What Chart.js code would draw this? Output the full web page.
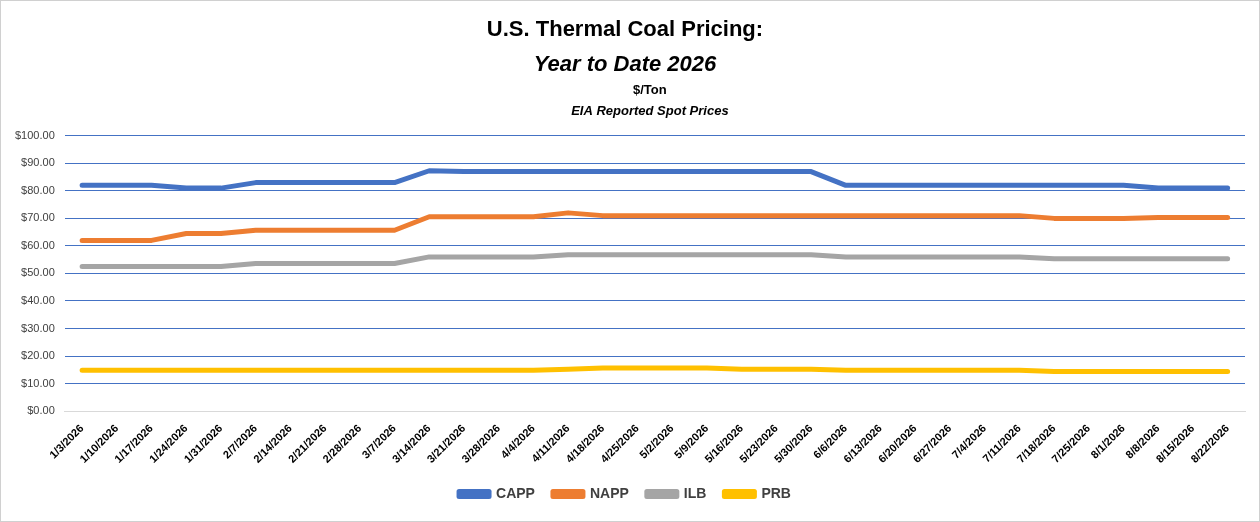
<!DOCTYPE html>
<html>
<head>
<meta charset="utf-8">
<script src="https://cdn.jsdelivr.net/npm/chart.js@4/dist/chart.umd.min.js"></script>
<style>
  html, body { margin: 0; padding: 0; background: #fff; }
  #wrap { position: absolute; left: 0; top: 0; width: 1258px; height: 520px; border: 1px solid #d0d0d0; }
</style>
</head>
<body>
<div id="wrap"><canvas id="coalChart"></canvas></div>
<script>
// Dados (semanal, $/ton)
const weeks = ['1/3/2026','1/10/2026','1/17/2026','1/24/2026','1/31/2026','2/7/2026','2/14/2026','2/21/2026','2/28/2026','3/7/2026',
  '3/14/2026','3/21/2026','3/28/2026','4/4/2026','4/11/2026','4/18/2026','4/25/2026','5/2/2026','5/9/2026','5/16/2026',
  '5/23/2026','5/30/2026','6/6/2026','6/13/2026','6/20/2026','6/27/2026','7/4/2026','7/11/2026','7/18/2026','7/25/2026',
  '8/1/2026','8/8/2026','8/15/2026','8/22/2026'];
const capp = [82,82,82,81,81,83,83,83,83,83,87.3,87,87,87,87,87,87,87,87,87,87,87,82,82,82,82,82,82,82,82,82,81,81,81];
const napp = [62,62,62,64.5,64.5,65.7,65.7,65.7,65.7,65.7,70.6,70.6,70.6,70.6,72,71,71,71,71,71,71,71,71,71,71,71,71,71,70,70,70,70.3,70.3,70.3];
const ilb = [52.5,52.5,52.5,52.5,52.5,53.6,53.6,53.6,53.6,53.6,56,56,56,56,56.8,56.8,56.8,56.8,56.8,56.8,56.8,56.8,56,56,56,56,56,56,55.3,55.3,55.3,55.3,55.3,55.3];
const prb = [14.8,14.8,14.8,14.8,14.8,14.8,14.8,14.8,14.8,14.8,14.8,14.8,14.8,14.8,15.2,15.6,15.6,15.6,15.6,15.2,15.2,15.2,14.8,14.8,14.8,14.8,14.8,14.8,14.4,14.4,14.4,14.4,14.4,14.4];

const font = 'Liberation Sans, Arial, sans-serif';

function serie(label, data, color) {
    return { label, data, borderColor: color, backgroundColor: color, borderWidth: 5,
        pointRadius: 0, tension: 0, borderCapStyle: 'round', borderJoinStyle: 'round' };
}

new Chart(document.getElementById('coalChart'), {
    type: 'line',
    data: {
        labels: weeks,
        datasets: [
            serie('CAPP', capp, '#4472c4'),
            serie('NAPP', napp, '#ed7d31'),
            serie('ILB', ilb, '#a5a5a5'),
            serie('PRB', prb, '#ffc000')
        ]
    },
    options: {
        responsive: true,
        maintainAspectRatio: false,
        animation: false,
        layout: { padding: { left: 4, right: 14, top: 16, bottom: 10 } },
        plugins: {
            title: {
                display: true,
                text: ['U.S. Thermal Coal Pricing:'],
                color: '#000', font: { family: font, size: 22, weight: 'bold' }, padding: { bottom: 4 }
            },
            subtitle: {
                display: true,
                text: 'Year to Date 2026',
                color: '#000', font: { family: font, size: 22, weight: 'bold', style: 'italic' }, padding: { top: 4, bottom: 58 }
            },
            legend: {
                position: 'bottom',
                labels: { color: '#404040', font: { family: font, size: 14, weight: 'bold' }, boxWidth: 30, boxHeight: 5, padding: 18 }
            },
            tooltip: { enabled: false }
        },
        scales: {
            x: {
                offset: true,
                grid: { display: false },
                border: { color: '#d9d9d9' },
                ticks: { color: '#000', font: { family: font, size: 11, weight: 'bold' }, maxRotation: 45, minRotation: 45, autoSkip: false }
            },
            y: {
                min: 0, max: 100,
                border: { display: false },
                grid: { color: c => c.tick.value === 0 ? '#d9d9d9' : '#4472c4', lineWidth: 1, drawTicks: false },
                ticks: { stepSize: 10, color: '#404040', padding: 10, font: { family: font, size: 11 },
                    callback: v => '$' + v.toFixed(2) }
            }
        }
    },
    plugins: [{
        id: 'extraLines',
        afterDraw(c) {
            const ctx = c.ctx, cx = (c.chartArea.left + c.chartArea.right) / 2;
            ctx.save();
            ctx.fillStyle = '#000';
            ctx.textAlign = 'center';
            ctx.font = 'bold 13px ' + font;
            ctx.fillText('$/Ton', cx - 5, 89);
            ctx.font = 'italic bold 13px ' + font;
            ctx.fillText('EIA Reported Spot Prices', cx - 5, 110);
            ctx.restore();
        }
    }]
});
</script>
</body>
</html>
